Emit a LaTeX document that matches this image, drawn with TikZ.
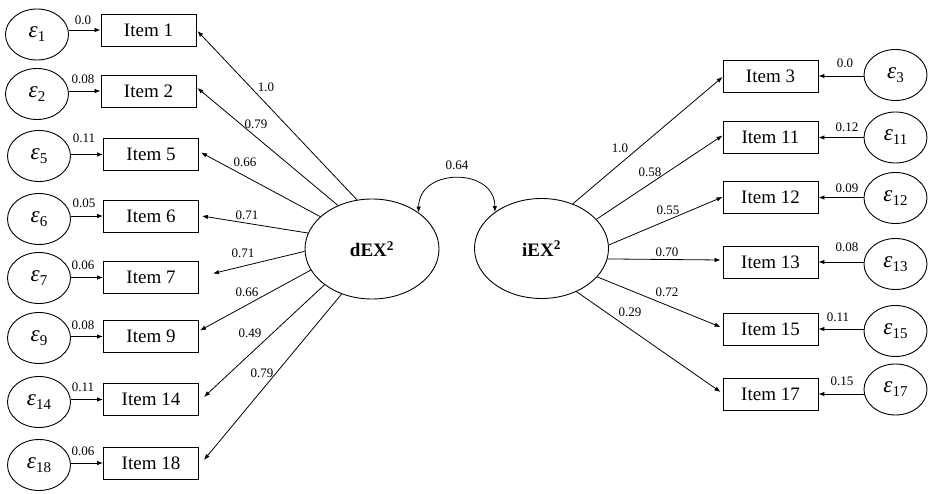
\documentclass[tikz,border=0pt]{standalone}
\usepackage{fontspec}
\setmainfont{Liberation Serif}
\usetikzlibrary{arrows.meta,shapes.geometric}
\newcommand{\myeps}[1]{{\fontsize{23}{23}\selectfont\itshape ε}\raisebox{-4pt}{\fontsize{15}{15}\selectfont #1}}
\begin{document}
\begin{tikzpicture}[x=1pt,y=-1pt,
  box/.style={draw, line width=0.9pt, minimum width=95pt, minimum height=32pt, inner sep=0pt, font=\fontsize{19}{20}\selectfont},
  err/.style={draw, ellipse, line width=0.9pt, minimum width=63pt, minimum height=51pt, inner sep=0pt},
  lat/.style={draw, ellipse, line width=0.9pt, minimum width=134pt, minimum height=100pt, inner sep=0pt, font=\fontsize{19}{20}\selectfont\bfseries},
  lab/.style={font=\fontsize{13}{14}\selectfont, inner sep=0pt},
  arr/.style={-{Latex[length=6pt,width=4.5pt]}, line width=0.8pt},
]
\useasboundingbox (0,0) rectangle (929,494);

% latent variables
\node[lat] (dex) at (372,249) {dEX\textsuperscript{2}};
\node[lat] (iex) at (541.5,248.5) {iEX\textsuperscript{2}};

% left items
\node[box] (i1)  at (148.5,30)  {Item 1};
\node[box] (i2)  at (148.5,91)  {Item 2};
\node[box] (i5)  at (151,154.5) {Item 5};
\node[box] (i6)  at (151,216)   {Item 6};
\node[box] (i7)  at (151,277.5) {Item 7};
\node[box] (i9)  at (151,336.5) {Item 9};
\node[box] (i14) at (151,399.5) {Item 14};
\node[box] (i18) at (151,463)   {Item 18};

% left errors
\node[err] (e1)  at (37,34.5) {\myeps{1}};
\node[err] (e2)  at (37,94)   {\myeps{2}};
\node[err] (e5)  at (39,156)  {\myeps{5}};
\node[err] (e6)  at (39,219)  {\myeps{6}};
\node[err] (e7)  at (39,278)  {\myeps{7}};
\node[err] (e9)  at (39,338)  {\myeps{9}};
\node[err] (e14) at (39,402)  {\myeps{14}};
\node[err] (e18) at (39,465)  {\myeps{18}};

% right items
\node[box] (i3)  at (770.5,76)    {Item 3};
\node[box] (i11) at (770.5,137.5) {Item 11};
\node[box] (i12) at (770.5,197.5) {Item 12};
\node[box] (i13) at (770.5,262)   {Item 13};
\node[box] (i15) at (770.5,329)   {Item 15};
\node[box] (i17) at (770.5,394)   {Item 17};

% right errors
\node[err] (e3)  at (895.5,75)    {\myeps{3}};
\node[err] (e11) at (895.5,137.5) {\myeps{11}};
\node[err] (e12) at (895.5,198)   {\myeps{12}};
\node[err] (e13) at (895.5,264)   {\myeps{13}};
\node[err] (e15) at (895.5,331)   {\myeps{15}};
\node[err] (e17) at (895.5,389.5) {\myeps{17}};

% error arrows left
\foreach \n in {1,2,5,6,7,9,14,18}
  \draw[arr] (e\n.east |- i\n.west) -- (i\n.west);
% error arrows right
\foreach \n in {3,11,12,13,15,17}
  \draw[arr] (e\n.west |- i\n.east) -- (i\n.east);

% loadings left
\draw[arr] (dex.107) -- ([xshift=1pt,yshift=-1pt]i1.east);
\draw[arr] (dex.128) -- ([xshift=1pt,yshift=3pt]i2.east);
\draw[arr] (dex.148) -- ([xshift=2pt,yshift=2pt]i5.east);
\draw[arr] (dex.166) -- ([xshift=3pt]i6.east);
\draw[arr] (dex.182) -- ([xshift=14pt,yshift=4pt]i7.east);
\draw[arr] (dex.199) -- ([xshift=1pt,yshift=6pt]i9.east);
\draw[arr] (dex.217) -- ([xshift=5pt,yshift=2.5pt]i14.east);
\draw[arr] (dex.236) -- ([xshift=5pt,yshift=3pt]i18.east);

% loadings right
\draw[arr] (iex.55)  -- ([yshift=-1pt]i3.west);
\draw[arr] (iex.28)  -- ([yshift=2pt]i11.west);
\draw[arr] (iex.3)   -- ([yshift=0.5pt]i12.west);
\draw[arr] (iex.-9.5) -- ([xshift=-2pt,yshift=2pt]i13.west);
\draw[arr] (iex.-27) -- ([xshift=-2pt,yshift=2pt]i15.west);
\draw[arr] (iex.-51) -- ([xshift=-2pt,yshift=2pt]i17.west);

% covariance
\draw[{Latex[length=6pt,width=4.5pt]}-{Latex[length=6pt,width=4.5pt]}, line width=0.8pt]
  (dex.38) .. controls +(0,-45) and +(0,-45) .. (iex.142);
\node[lab] (c) at (457,165) {0.64};

% loading labels left
\node[lab] (l1)  at (266,87)  {1.0};
\node[lab] (l2)  at (256,124) {0.79};
\node[lab] (l5)  at (245,162) {0.66};
\node[lab] (l6)  at (247,215) {0.71};
\node[lab] (l7)  at (243,253) {0.71};
\node[lab] (l9)  at (247,292) {0.66};
\node[lab] (l14) at (250,333) {0.49};
\node[lab] (l18) at (262,373) {0.79};

% loading labels right
\node[lab] (l3)  at (620,148) {1.0};
\node[lab] (l11) at (650,172) {0.58};
\node[lab] (l12) at (668,210) {0.55};
\node[lab] (l13) at (667,252) {0.70};
\node[lab] (l15) at (667,292) {0.72};
\node[lab] (l17) at (630,312) {0.29};

% error labels left
\node[lab] (v1)  at (83,20)  {0.0};
\node[lab] (v2)  at (83,79)  {0.08};
\node[lab] (v5)  at (84,138) {0.11};
\node[lab] (v6)  at (84,203) {0.05};
\node[lab] (v7)  at (83,265) {0.06};
\node[lab] (v9)  at (83,325) {0.08};
\node[lab] (v14) at (83,387) {0.11};
\node[lab] (v18) at (83,451) {0.06};

% error labels right
\node[lab] (v3)  at (845,63)  {0.0};
\node[lab] (v11) at (847,127) {0.12};
\node[lab] (v12) at (847,188) {0.09};
\node[lab] (v13) at (847,247) {0.08};
\node[lab] (v15) at (838,317) {0.11};
\node[lab] (v17) at (842,381) {0.15};
\end{tikzpicture}
\end{document}
